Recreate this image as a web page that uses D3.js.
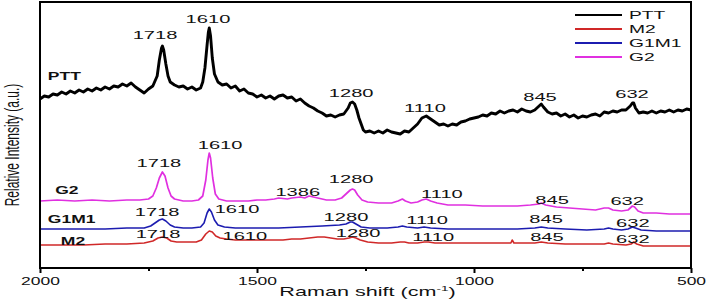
<!DOCTYPE html>
<html>
<head>
<meta charset="utf-8">
<script src="https://cdn.jsdelivr.net/npm/d3@7"></script>
<style>
  body { margin: 0; background: #fff; }
  svg { display: block; font-family: "Liberation Sans", Arial, sans-serif; }
</style>
</head>
<body>
<svg id="raman"></svg>
<script>
// Raman spectra, [shift (cm-1), relative intensity (stacked, a.u.)]
const pttData = [
  [2000,169],[1990,172],[1980,171],[1970,174],[1960,173],[1950,176],[1940,174],[1930,177],[1920,175],[1910,178],
  [1900,176],[1890,179],[1880,177],[1870,180],[1860,178],[1850,181],[1840,179],[1830,182],[1820,181],[1810,184],
  [1800,182],[1790,185],[1780,181],[1770,178],[1760,175],[1750,179],[1740,182],[1730,192],[1725,208],[1720,220],
  [1718,222],[1715,218],[1710,204],[1705,192],[1700,186],[1690,183],[1680,181],[1670,182],[1660,179],[1650,181],
  [1640,178],[1630,180],[1625,186],[1620,200],[1615,223],[1612,236],[1610,240],[1607,232],[1603,210],[1598,194],
  [1590,186],[1580,183],[1570,184],[1560,180],[1550,182],[1540,177],[1530,179],[1520,175],[1510,174],[1500,171],
  [1490,173],[1480,170],[1470,172],[1460,169],[1450,172],[1440,173],[1430,170],[1420,171],[1410,167],[1400,169],
  [1390,165],[1380,162],[1370,160],[1360,157],[1350,155],[1340,152],[1330,153],[1320,151],[1310,153],[1300,154],
  [1290,160],[1285,165],[1280,166],[1275,164],[1270,158],[1265,150],[1260,144],[1255,138],[1250,136],[1240,137],
  [1230,135],[1220,137],[1210,135],[1200,138],[1190,136],[1180,135],[1170,134],[1160,137],[1150,136],[1140,140],
  [1130,144],[1120,150],[1110,152],[1100,149],[1090,146],[1080,143],[1070,144],[1060,142],[1050,144],[1040,143],
  [1030,146],[1020,147],[1010,149],[1000,150],[990,151],[980,153],[970,152],[960,155],[950,154],[940,157],
  [930,155],[920,157],[910,158],[900,156],[890,159],[880,157],[870,156],[860,158],[850,162],[845,164],
  [840,161],[830,156],[820,154],[810,155],[800,152],[790,154],[780,151],[770,153],[760,150],[750,152],
  [740,151],[730,153],[720,154],[710,152],[700,156],[690,155],[680,157],[670,156],[660,158],[650,158],
  [640,162],[635,165],[632,165],[628,160],[620,155],[610,156],[600,155],[590,157],[580,155],[570,157],
  [560,156],[550,158],[540,156],[530,158],[520,157],[510,159],[500,158]
];

const g2Data = [
  [2000,67],[1960,68],[1920,67],[1880,68],[1840,67],[1800,68],[1770,68],[1750,69],[1740,72],[1732,80],
  [1725,90],[1718,96],[1712,92],[1705,80],[1698,72],[1690,69],[1670,67],[1650,67],[1635,68],[1625,72],
  [1618,88],[1613,108],[1610,115],[1607,110],[1602,90],[1596,74],[1588,69],[1570,67],[1550,67],[1520,67],
  [1500,68],[1480,68],[1460,69],[1450,70],[1430,69],[1420,70],[1400,71],[1390,70],[1380,72],[1370,71],
  [1360,70],[1340,68],[1320,68],[1305,70],[1295,74],[1285,78],[1280,79],[1275,78],[1268,73],[1258,68],
  [1245,66],[1220,65],[1190,65],[1175,67],[1165,69],[1158,67],[1145,65],[1130,66],[1120,68],[1110,69],
  [1100,67],[1085,65],[1060,63],[1020,63],[980,62],[940,62],[900,62],[870,63],[850,64],[845,65],
  [835,63],[810,61],[780,60],[750,59],[720,58],[700,60],[690,60],[680,58],[660,57],[645,58],
  [635,62],[630,61],[622,57],[610,55],[580,55],[550,54],[520,54],[500,54]
];

const g1m1Data = [
  [2000,39],[1950,39],[1900,39],[1850,39],[1800,40],[1760,40],[1745,42],[1735,45],[1725,48],[1718,49],
  [1710,47],[1700,43],[1690,41],[1670,40],[1650,40],[1630,41],[1622,45],[1615,55],[1610,59],[1605,56],
  [1598,48],[1590,43],[1575,41],[1550,40],[1500,40],[1450,40],[1400,41],[1350,42],[1310,43],[1295,44],
  [1285,46],[1280,46],[1272,44],[1260,41],[1240,40],[1200,40],[1175,41],[1165,42],[1155,41],[1130,40],
  [1115,41],[1100,40],[1060,39],[1000,39],[950,39],[900,39],[860,40],[845,41],[830,40],[790,39],
  [740,38],[700,39],[690,40],[680,39],[660,38],[645,39],[635,41],[628,40],[615,38],[580,37],
  [540,37],[500,37]
];

const m2Data = [
  [2000,23],[1950,23],[1900,23],[1850,24],[1800,24],[1760,25],[1740,27],[1728,30],[1718,31],[1708,30],
  [1698,27],[1685,26],[1660,26],[1640,26],[1628,28],[1618,34],[1610,37],[1603,36],[1595,32],[1585,30],
  [1570,29],[1550,28],[1520,28],[1500,28],[1470,28],[1440,28],[1420,29],[1400,29],[1380,30],[1360,31],
  [1345,31],[1330,30],[1315,29],[1300,29],[1288,30],[1280,31],[1272,30],[1262,28],[1245,26],[1220,25],
  [1190,25],[1170,26],[1160,26],[1150,25],[1130,25],[1115,26],[1105,26],[1090,25],[1060,25],[1020,25],
  [980,25],[940,25],[915,25],[912,28],[908,25],[880,25],[860,25],[845,26],[830,25],[790,24],
  [740,24],[700,24],[690,25],[680,24],[650,23],[638,24],[632,26],[625,24],[610,22],[560,22],[500,22]
];

// peak annotations: [text, shift, intensity]
const pttPeaks = [["1718",1735,229],["1610",1613,245],["1280",1283,171],["1110",1113,156],["845",848,167],["632",636,170]];
const g2Peaks = [["1718",1726,101],["1610",1585,119],["1386",1406,72],["1280",1283,85],["1110",1074,70],["845",820,64],["632",647,63]];
const g1m1Peaks = [["1718",1730,52],["1610",1546,55],["1280",1295,47],["1110",1108,44],["845",834,45],["632",634,41]];
const m2Peaks = [["1718",1728,30],["1610",1528,28],["1280",1267,31],["1110",1094,27],["845",832,27],["632",634,25]];

// series names drawn inside the plot: [text, shift, intensity]
const seriesNames = [["PTT",1982,188],["G2",1965,74],["G1M1",1982,45],["M2",1952,23]];

const legendNames = ["PTT", "M2", "G1M1", "G2"];
const legendColors = ["#000000", "#d02828", "#1c1cb0", "#e030e0"];

const majorTicks = [2000, 1500, 1000, 500];
const minorTicks = [1750, 1250, 750];

// the source figure is stretched sideways, so text gets a horizontal scale
const stretch = 1.75;

const margin = { top: 2, right: 16, bottom: 39, left: 40 };
const width = 707 - margin.left - margin.right;
const height = 307 - margin.top - margin.bottom;

const svg = d3.select("#raman")
  .attr("width", 707)
  .attr("height", 307)
  .append("g")
  .attr("transform", `translate(${margin.left}, ${margin.top})`);

const xScale = d3.scaleLinear().domain([2000, 500]).range([0, width]);
const yScale = d3.scaleLinear().domain([0, 266]).range([height, 0]);

const line = d3.line()
  .x(d => xScale(d[0]))
  .y(d => yScale(d[1]));

const series = [
  { data: m2Data, color: legendColors[1], w: 1.6 },
  { data: g1m1Data, color: legendColors[2], w: 1.6 },
  { data: g2Data, color: legendColors[3], w: 1.7 },
  { data: pttData, color: legendColors[0], w: 2.9 }
];

svg.selectAll(".trace")
  .data(series)
  .enter()
  .append("path")
  .attr("class", "trace")
  .attr("fill", "none")
  .attr("stroke", d => d.color)
  .attr("stroke-width", d => d.w)
  .attr("stroke-linejoin", "round")
  .attr("d", d => line(d.data));

// peak labels
const allPeaks = [].concat(pttPeaks, g2Peaks, g1m1Peaks, m2Peaks);
svg.selectAll(".peak")
  .data(allPeaks)
  .enter()
  .append("text")
  .attr("class", "peak")
  .attr("text-anchor", "middle")
  .attr("font-size", 11.5)
  .attr("fill", "#111")
  .attr("transform", d => `translate(${xScale(d[1])}, ${yScale(d[2])}) scale(${stretch}, 1)`)
  .text(d => d[0]);

svg.selectAll(".name")
  .data(seriesNames)
  .enter()
  .append("text")
  .attr("class", "name")
  .attr("font-size", 10)
  .attr("font-weight", "bold")
  .attr("fill", "#111")
  .attr("transform", d => `translate(${xScale(d[1])}, ${yScale(d[2])}) scale(${stretch}, 1)`)
  .text(d => d[0]);

// x axis with major and minor ticks
const xAxis = svg.append("g")
  .attr("transform", `translate(0, ${height})`)
  .call(d3.axisBottom(xScale).tickValues(majorTicks).tickSize(5).tickFormat(d3.format("")));
xAxis.select(".domain").remove();
xAxis.selectAll("line").attr("stroke-width", 2);
xAxis.selectAll("text")
  .attr("y", 0).attr("dy", 0)
  .attr("font-size", 10)
  .attr("font-family", "Liberation Sans, Arial, sans-serif")
  .attr("fill", "#111")
  .attr("transform", `translate(0, 17) scale(${stretch}, 1)`);

const xMinor = svg.append("g")
  .attr("transform", `translate(0, ${height})`)
  .call(d3.axisBottom(xScale).tickValues(minorTicks).tickSize(3).tickFormat(""));
xMinor.select(".domain").remove();
xMinor.selectAll("line").attr("stroke-width", 2);

// frame
svg.append("rect")
  .attr("x", 0).attr("y", 0)
  .attr("width", width).attr("height", height)
  .attr("fill", "none")
  .attr("stroke", "#000")
  .attr("stroke-width", 2);

// axis titles
const xTitle = svg.append("text")
  .attr("text-anchor", "middle")
  .attr("font-size", 12)
  .attr("fill", "#111")
  .attr("transform", `translate(${width / 2 + 2}, ${height + 28}) scale(1.8, 1)`);
xTitle.append("tspan").text("Raman shift (cm");
xTitle.append("tspan").attr("font-size", 7.5).attr("dy", -5).text("-1");
xTitle.append("tspan").attr("dy", 5).text(")");

svg.append("text")
  .attr("text-anchor", "middle")
  .attr("font-size", 12)
  .attr("fill", "#111")
  .attr("transform", `translate(${-21}, ${143}) rotate(-90) scale(1, 1.65)`)
  .text("Relative Intensity (a.u.)");

// legend
const legend = svg.append("g")
  .attr("transform", `translate(${535}, ${13})`);

const legendRows = legend.selectAll("g")
  .data(legendNames)
  .enter()
  .append("g")
  .attr("transform", (d, i) => `translate(0, ${i * 14})`);

legendRows.append("line")
  .attr("x1", 0).attr("x2", 47)
  .attr("stroke", (d, i) => legendColors[i])
  .attr("stroke-width", 2);

legendRows.append("text")
  .attr("font-size", 11)
  .attr("fill", "#111")
  .attr("transform", `translate(54, 4) scale(${stretch}, 1)`)
  .text(d => d);
</script>
</body>
</html>
